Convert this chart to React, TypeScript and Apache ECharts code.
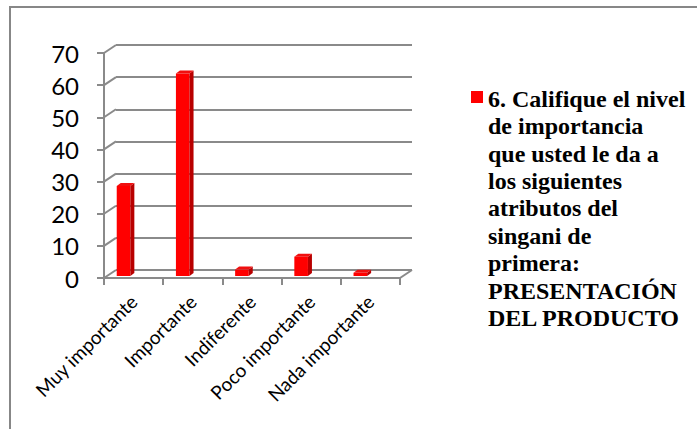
import React, { useEffect, useRef } from "react";
import * as echarts from "echarts";

// Survey answers (percent of respondents)
const categories = [
  "Muy importante",
  "Importante",
  "Indiferente",
  "Poco importante",
  "Nada importante",
];
const values = [28, 63, 2, 6, 1];
const yTicks = [0, 10, 20, 30, 40, 50, 60, 70];
const legendLines = [
  "6. Califique el nivel",
  "de importancia",
  "que usted le da a",
  "los siguientes",
  "atributos del",
  "singani de",
  "primera:",
  "PRESENTACIÓN",
  "DEL PRODUCTO",
];
const seriesName = legendLines.join(" ");

// 3D look: back wall offset relative to the front plane
const DX = 12;
const DY = -8;
const GRID_COLOR = "#8a8a8a";
const BAR_RED = "#ff0000";
const BAR_SIDE = "#b80000";
const BAR_TOP = "#f01010";

export default function App() {
  const ref = useRef<HTMLDivElement>(null);

  useEffect(() => {
    if (!ref.current) return;
    const chart = echarts.init(ref.current, undefined, { renderer: "svg" });

    const front = { left: 104, top: 53, width: 296, height: 225 };
    const back = {
      left: front.left + DX,
      top: front.top + DY,
      width: front.width,
      height: front.height,
    };

    chart.setOption({
      animation: false,
      backgroundColor: "#ffffff",
      grid: [
        { ...front, containLabel: false },
        { ...back, containLabel: false },
      ],
      xAxis: [
        {
          type: "category",
          gridIndex: 0,
          data: categories,
          axisLine: { show: true, lineStyle: { color: GRID_COLOR, width: 2 } },
          axisTick: { show: true, length: 7, lineStyle: { color: GRID_COLOR, width: 2 } },
          axisLabel: {
            rotate: 45,
            margin: 20,
            color: "#000",
            fontFamily: "Lato",
            fontSize: 19,
            interval: 0,
          },
          splitLine: { show: false },
        },
        {
          type: "category",
          gridIndex: 1,
          data: categories,
          show: false,
        },
      ],
      yAxis: [
        {
          type: "value",
          gridIndex: 0,
          min: 0,
          max: 70,
          interval: 10,
          axisLine: { show: true, lineStyle: { color: GRID_COLOR, width: 2 } },
          axisTick: { show: true, length: 7, lineStyle: { color: GRID_COLOR, width: 2 } },
          axisLabel: {
            margin: 25,
            color: "#000",
            fontFamily: "Lato",
            fontSize: 24,
          },
          splitLine: { show: false },
        },
        {
          type: "value",
          gridIndex: 1,
          min: 0,
          max: 70,
          interval: 10,
          axisLine: { show: false },
          axisTick: { show: false },
          axisLabel: { show: false },
          splitLine: { show: true, lineStyle: { color: GRID_COLOR, width: 2 } },
        },
      ],
      series: [
        {
          // diagonal edges joining the front axis to the back wall
          type: "custom",
          xAxisIndex: 0,
          yAxisIndex: 0,
          silent: true,
          z: 1,
          data: yTicks.map((v) => [0, v]),
          renderItem: (params: any, api: any) => {
            const v = api.value(1);
            const p = api.coord([0, v]);
            const bw = api.size([1, 0])[0];
            const xl = p[0] - bw / 2;
            const style = { stroke: GRID_COLOR, lineWidth: 2, fill: "none" };
            const children: any[] = [
              {
                type: "line",
                shape: { x1: xl, y1: p[1], x2: xl + DX, y2: p[1] + DY },
                style,
              },
            ];
            if (v === 0) {
              const xr = api.coord([categories.length - 1, 0])[0] + bw / 2;
              children.push({
                type: "line",
                shape: { x1: xr, y1: p[1], x2: xr + DX, y2: p[1] + DY },
                style,
              });
            }
            return { type: "group", children };
          },
        },
        {
          name: seriesName,
          type: "custom",
          xAxisIndex: 0,
          yAxisIndex: 0,
          z: 3,
          data: values.map((v, i) => [i, v]),
          renderItem: (params: any, api: any) => {
            const i = api.value(0);
            const v = api.value(1);
            const base = api.coord([i, 0]);
            const top = api.coord([i, v]);
            const bw = api.size([1, 0])[0];
            const xl = base[0] - bw / 2 + bw * 0.215;
            const xr = xl + bw * 0.23;
            const yb = base[1] - 2;
            const yt = top[1] - 2;
            const d = 4;
            const h = 3;
            return {
              type: "group",
              children: [
                {
                  type: "polygon",
                  shape: { points: [[xl, yb], [xl, yt], [xr, yt], [xr, yb]] },
                  style: { fill: BAR_RED },
                },
                {
                  type: "polygon",
                  shape: {
                    points: [[xr, yb], [xr, yt], [xr + d, yt - h], [xr + d, yb - h]],
                  },
                  style: { fill: BAR_SIDE },
                },
                {
                  type: "polygon",
                  shape: {
                    points: [[xl, yt], [xl + d, yt - h], [xr + d, yt - h], [xr, yt]],
                  },
                  style: { fill: BAR_TOP },
                },
              ],
            };
          },
        },
      ],
      graphic: [
        {
          type: "polyline",
          shape: { points: [[10, 440], [10, 7], [710, 7]] },
          style: { stroke: "#878787", lineWidth: 2, fill: "none" },
          silent: true,
        },
        {
          type: "rect",
          shape: { x: 471, y: 91, width: 12, height: 12 },
          style: { fill: BAR_RED },
          silent: true,
        },
        {
          type: "text",
          x: 488,
          y: 85,
          style: {
            text: legendLines.join("\n"),
            fill: "#000",
            fontFamily: "Liberation Serif",
            fontWeight: "bold",
            fontSize: 24,
            lineHeight: 27.4,
            verticalAlign: "top",
            align: "left",
          },
          silent: true,
        },
      ],
    });

    return () => chart.dispose();
  }, []);

  return (
    <div
      ref={ref}
      style={{ position: "fixed", left: 0, top: 0, width: 697, height: 429, background: "#fff" }}
    />
  );
}
